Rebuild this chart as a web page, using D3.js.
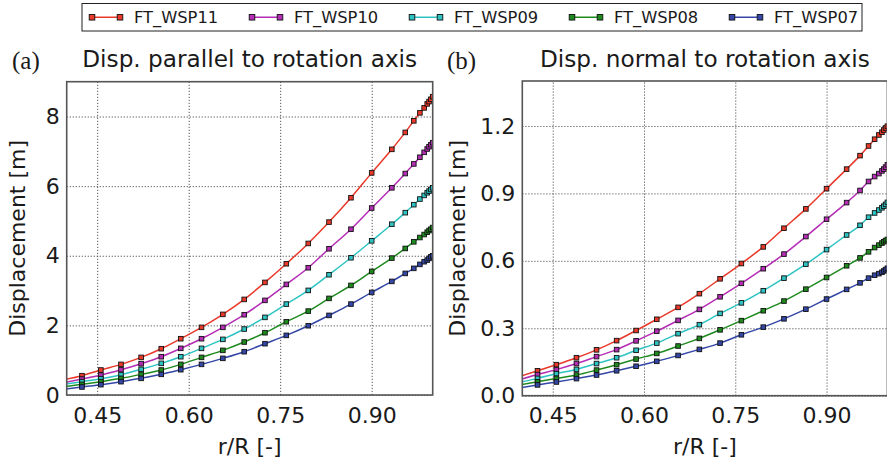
<!DOCTYPE html>
<html>
<head>
<meta charset="utf-8">
<script src="https://cdn.jsdelivr.net/npm/d3@7"></script>
<style>
  html, body { margin: 0; padding: 0; background: #fff; }
  svg { display: block; }
  text { font-family: "DejaVu Sans", sans-serif; fill: #1a1a1a; }
</style>
</head>
<body>
<svg id="chart" width="887" height="466"></svg>
<script>
// ---------------- data ----------------
const seriesNames = ["FT_WSP11", "FT_WSP10", "FT_WSP09", "FT_WSP08", "FT_WSP07"];
const seriesColors = ["#e8392a", "#b42db4", "#2ec3c3", "#1e8a1e", "#3447a6"];

const rR = [0.391, 0.425, 0.456, 0.489, 0.522, 0.555, 0.587, 0.621, 0.656, 0.691, 0.725, 0.760, 0.796,
            0.830, 0.866, 0.900, 0.933, 0.955, 0.969, 0.979, 0.986, 0.991, 0.994, 0.997, 1.000];

// (a) displacement parallel to rotation axis [m]
const parWSP11 = [0.424, 0.555, 0.718, 0.880, 1.081, 1.330, 1.617, 1.943, 2.316, 2.746, 3.234, 3.770, 4.354, 4.967, 5.667, 6.381, 7.057, 7.543, 7.876, 8.105, 8.248, 8.362, 8.429, 8.495, 8.570];
const parWSP10 = [0.342, 0.459, 0.574, 0.727, 0.900, 1.100, 1.340, 1.617, 1.943, 2.306, 2.718, 3.177, 3.656, 4.201, 4.762, 5.371, 5.952, 6.362, 6.638, 6.829, 6.971, 7.067, 7.133, 7.190, 7.248];
const parWSP09 = [0.292, 0.383, 0.469, 0.584, 0.737, 0.909, 1.100, 1.340, 1.598, 1.895, 2.230, 2.612, 3.005, 3.455, 3.943, 4.429, 4.905, 5.238, 5.467, 5.629, 5.733, 5.810, 5.857, 5.905, 5.952];
const parWSP08 = [0.228, 0.306, 0.383, 0.478, 0.593, 0.718, 0.880, 1.081, 1.282, 1.522, 1.789, 2.105, 2.411, 2.775, 3.148, 3.550, 3.933, 4.210, 4.400, 4.524, 4.610, 4.676, 4.724, 4.762, 4.810];
const parWSP07 = [0.151, 0.230, 0.297, 0.383, 0.478, 0.593, 0.727, 0.880, 1.053, 1.244, 1.474, 1.713, 1.990, 2.287, 2.612, 2.947, 3.263, 3.493, 3.638, 3.752, 3.829, 3.876, 3.924, 3.971, 4.000];

// (b) displacement normal to rotation axis [m]
const norWSP11 = [0.081, 0.111, 0.138, 0.169, 0.204, 0.245, 0.290, 0.340, 0.393, 0.454, 0.520, 0.588, 0.662, 0.745, 0.831, 0.921, 1.008, 1.068, 1.111, 1.141, 1.160, 1.172, 1.182, 1.191, 1.199];
const norWSP10 = [0.067, 0.094, 0.116, 0.143, 0.174, 0.205, 0.244, 0.287, 0.335, 0.384, 0.440, 0.500, 0.565, 0.630, 0.708, 0.785, 0.859, 0.913, 0.953, 0.975, 0.988, 1.000, 1.008, 1.017, 1.027];
const norWSP09 = [0.057, 0.077, 0.098, 0.117, 0.143, 0.169, 0.202, 0.234, 0.276, 0.316, 0.366, 0.413, 0.467, 0.523, 0.585, 0.650, 0.715, 0.758, 0.794, 0.813, 0.826, 0.836, 0.843, 0.851, 0.860];
const norWSP08 = [0.046, 0.062, 0.077, 0.092, 0.114, 0.138, 0.163, 0.188, 0.221, 0.255, 0.293, 0.334, 0.378, 0.421, 0.474, 0.526, 0.578, 0.613, 0.640, 0.659, 0.670, 0.679, 0.685, 0.690, 0.695];
const norWSP07 = [0.033, 0.048, 0.061, 0.076, 0.092, 0.111, 0.131, 0.153, 0.179, 0.206, 0.234, 0.271, 0.305, 0.342, 0.385, 0.430, 0.473, 0.502, 0.523, 0.536, 0.543, 0.549, 0.555, 0.561, 0.567];

const xTicks = [0.45, 0.60, 0.75, 0.90];
const yTicksA = [0, 2, 4, 6, 8];
const yTicksB = [0.0, 0.3, 0.6, 0.9, 1.2];

const titleA = "Disp. parallel to rotation axis";
const titleB = "Disp. normal to rotation axis";
const xLabel = "r/R [-]";
const yLabel = "Displacement [m]";

// ---------------- drawing ----------------
const svg = d3.select("#chart");

function drawPanel(id, box, yDomain, yTicks, yFmt, seriesData, title, tag) {
  const g = svg.append("g");
  const x = d3.scaleLinear().domain([0.4, 1.0]).range([box.x0, box.x1]);
  const y = d3.scaleLinear().domain(yDomain).range([box.y1, box.y0]);

  g.append("clipPath").attr("id", "clip" + id)
    .append("rect").attr("x", box.x0).attr("y", box.y0)
    .attr("width", box.x1 - box.x0).attr("height", box.y1 - box.y0);

  // grid
  const gx = g.append("g").attr("transform", `translate(0,${box.y1})`)
    .call(d3.axisBottom(x).tickValues(xTicks).tickSize(-(box.y1 - box.y0)).tickFormat(""));
  const gy = g.append("g").attr("transform", `translate(${box.x0},0)`)
    .call(d3.axisLeft(y).tickValues(yTicks).tickSize(-(box.x1 - box.x0)).tickFormat(""));
  [gx, gy].forEach(a => {
    a.select(".domain").remove();
    a.selectAll("line").attr("stroke", "#555").attr("stroke-width", 1).attr("stroke-dasharray", "1.2,1.8");
  });

  // tick labels
  const ax = g.append("g").attr("transform", `translate(0,${box.y1})`)
    .call(d3.axisBottom(x).tickValues(xTicks).tickSize(0).tickPadding(12).tickFormat(d3.format(".2f")));
  const ay = g.append("g").attr("transform", `translate(${box.x0},0)`)
    .call(d3.axisLeft(y).tickValues(yTicks).tickSize(0).tickPadding(7).tickFormat(yFmt));
  [ax, ay].forEach(a => {
    a.select(".domain").remove();
    a.selectAll("text").style("font-family", "DejaVu Sans").style("font-size", "22px").attr("fill", "#1a1a1a");
  });

  // series
  const plot = g.append("g").attr("clip-path", `url(#clip${id})`);
  const line = d3.line().x((d, i) => x(rR[i])).y(d => y(d)).curve(d3.curveMonotoneX);
  seriesData.forEach((vals, si) => {
    plot.append("path").datum(vals).attr("d", line)
      .attr("fill", "none").attr("stroke", seriesColors[si]).attr("stroke-width", 1.5);
  });
  seriesData.forEach((vals, si) => {
    plot.selectAll(null).data(vals).enter().append("rect")
      .attr("x", (d, i) => x(rR[i]) - 2.3).attr("y", d => y(d) - 2.3)
      .attr("width", 4.6).attr("height", 4.6)
      .attr("fill", seriesColors[si]).attr("stroke", "#111").attr("stroke-width", 0.9);
  });

  // frame
  g.append("rect").attr("x", box.x0).attr("y", box.y0)
    .attr("width", box.x1 - box.x0).attr("height", box.y1 - box.y0)
    .attr("fill", "none").attr("stroke", "#555").attr("stroke-width", 1.6);

  // title & labels
  g.append("text").attr("x", (box.x0 + box.x1) / 2).attr("y", 67)
    .attr("text-anchor", "middle").style("font-size", "23.2px").text(title);
  g.append("text").attr("x", box.tagX).attr("y", 69)
    .style("font-family", "'Liberation Serif', 'DejaVu Serif', serif").style("font-size", "25px").text(tag);
  g.append("text").attr("x", (box.x0 + box.x1) / 2).attr("y", 454)
    .attr("text-anchor", "middle").style("font-size", "22px").text(xLabel);
  g.append("text").attr("transform", `translate(${box.yLabX},${(box.y0 + box.y1) / 2}) rotate(-90)`)
    .attr("text-anchor", "middle").style("font-size", "22px").text(yLabel);
}

drawPanel("a", {x0: 66.7, x1: 432.7, y0: 81.7, y1: 395, tagX: 12, yLabX: 25},
  [0, 9], yTicksA, d3.format("d"),
  [parWSP11, parWSP10, parWSP09, parWSP08, parWSP07], titleA, "(a)");
drawPanel("b", {x0: 522.3, x1: 887.4, y0: 81, y1: 395.7, tagX: 447, yLabX: 465},
  [0, 1.4], yTicksB, d3.format(".1f"),
  [norWSP11, norWSP10, norWSP09, norWSP08, norWSP07], titleB, "(b)");

// legend
const leg = svg.append("g");
const legX0 = 82, legY0 = 3.5, legW = 780, legH = 27.5, itemW = 160;
leg.append("rect").attr("x", legX0).attr("y", legY0).attr("width", legW).attr("height", legH)
  .attr("fill", "#fff").attr("stroke", "#222").attr("stroke-width", 1);
seriesNames.forEach((name, i) => {
  const lx = legX0 + 10 + i * itemW;
  const ly = legY0 + legH / 2;
  leg.append("line").attr("x1", lx).attr("x2", lx + 28).attr("y1", ly).attr("y2", ly)
    .attr("stroke", seriesColors[i]).attr("stroke-width", 1.5);
  [lx, lx + 28].forEach(px => {
    leg.append("rect").attr("x", px - 2.8).attr("y", ly - 2.8).attr("width", 5.6).attr("height", 5.6)
      .attr("fill", seriesColors[i]).attr("stroke", "#111").attr("stroke-width", 0.9);
  });
  leg.append("text").attr("x", lx + 42).attr("y", ly + 6).style("font-size", "16.3px").text(name);
});
</script>
</body>
</html>
